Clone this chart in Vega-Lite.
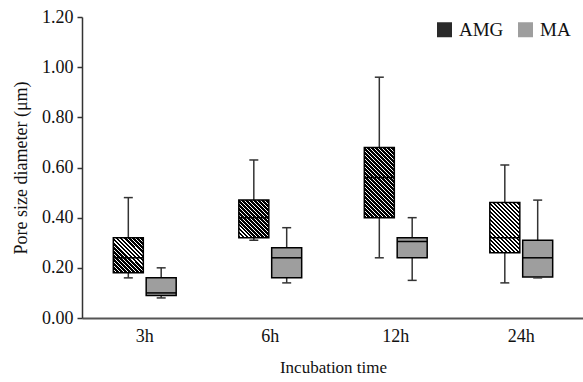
{
  "$schema": "https://vega.github.io/schema/vega-lite/v6.json",
  "width": 502,
  "height": 301,
  "autosize": {"type": "none"},
  "padding": {"left": 82, "top": 17, "right": 0, "bottom": 64},
  "config": {
    "view": {"stroke": null},
    "font": "Liberation Serif",
    "axis": {"labelColor": "#111", "titleColor": "#111", "labelFont": "Liberation Serif", "titleFont": "Liberation Serif"},
    "legend": {"labelFont": "Liberation Serif", "labelColor": "#111"}
  },
  "data": {
    "values": [
      {"time": "3h", "group": "AMG", "min": 0.16, "q1": 0.18, "median": 0.24, "q3": 0.32, "max": 0.48},
      {"time": "3h", "group": "MA", "min": 0.08, "q1": 0.09, "median": 0.10, "q3": 0.16, "max": 0.20},
      {"time": "6h", "group": "AMG", "min": 0.31, "q1": 0.32, "median": 0.40, "q3": 0.47, "max": 0.63},
      {"time": "6h", "group": "MA", "min": 0.14, "q1": 0.16, "median": 0.24, "q3": 0.28, "max": 0.36},
      {"time": "12h", "group": "AMG", "min": 0.24, "q1": 0.40, "median": 0.56, "q3": 0.68, "max": 0.96},
      {"time": "12h", "group": "MA", "min": 0.15, "q1": 0.24, "median": 0.305, "q3": 0.32, "max": 0.40},
      {"time": "24h", "group": "AMG", "min": 0.14, "q1": 0.26, "median": 0.32, "q3": 0.46, "max": 0.61},
      {"time": "24h", "group": "MA", "min": 0.16, "q1": 0.163, "median": 0.24, "q3": 0.31, "max": 0.47}
    ]
  },
  "encoding": {
    "x": {
      "field": "time", "type": "nominal", "sort": ["3h", "6h", "12h", "24h"],
      "scale": {"paddingInner": 0, "paddingOuter": 0},
      "axis": {"title": "Incubation time", "labelAngle": 0, "ticks": false, "domainColor": "#555", "domainWidth": 2,
               "labelFontSize": 18, "labelPadding": 9, "titleFontSize": 17, "titlePadding": 14, "titleFontWeight": "normal"}
    },
    "xOffset": {"field": "group", "type": "nominal", "scale": {"domain": ["AMG", "MA"], "paddingInner": 0, "paddingOuter": 0.909}}
  },
  "layer": [
    {
      "mark": {"type": "rule", "color": "#333", "strokeWidth": 1.5},
      "encoding": {
        "y": {"field": "min", "type": "quantitative", "scale": {"domain": [0, 1.2]},
              "axis": {"title": "Pore size diameter  (μm)", "values": [0, 0.2, 0.4, 0.6, 0.8, 1.0, 1.2], "format": ".2f", "grid": false,
                       "tickSize": 5, "labelPadding": 4, "domainColor": "#333", "tickColor": "#333", "domainWidth": 1.5, "tickWidth": 1.5,
                       "labelFontSize": 18, "titleFontSize": 18, "titleFontWeight": "normal", "titlePadding": 11}},
        "y2": {"field": "max"}
      }
    },
    {
      "mark": {"type": "bar", "width": 30, "stroke": "#000", "strokeWidth": 1.5},
      "encoding": {
        "y": {"field": "q1", "type": "quantitative"},
        "y2": {"field": "q3"},
        "fill": {
          "field": "group", "type": "nominal",
          "scale": {"domain": ["AMG", "MA"], "range": ["#2a2a2a", "#9e9e9e"]},
          "legend": {"title": null, "orient": "none", "legendX": 353, "legendY": 3, "direction": "horizontal", "symbolType": "square",
                     "symbolSize": 225, "labelFontSize": 19, "labelOffset": 5, "columnPadding": 12, "symbolStrokeWidth": 0, "padding": 0},
          "condition": [
            {"test": "datum.group === 'AMG' && datum.time === '3h'", "value": {"gradient": "linear", "x1": 0, "y1": 1, "x2": 0.9176, "y2": -0.0706, "stops": [
              {"offset": 0, "color": "#000"}, {"offset": 0.0425, "color": "#000"}, {"offset": 0.0425, "color": "#fff"}, {"offset": 0.0625, "color": "#fff"},
              {"offset": 0.0625, "color": "#000"}, {"offset": 0.105, "color": "#000"}, {"offset": 0.105, "color": "#fff"}, {"offset": 0.125, "color": "#fff"},
              {"offset": 0.125, "color": "#000"}, {"offset": 0.1675, "color": "#000"}, {"offset": 0.1675, "color": "#fff"}, {"offset": 0.1875, "color": "#fff"},
              {"offset": 0.1875, "color": "#000"}, {"offset": 0.23, "color": "#000"}, {"offset": 0.23, "color": "#fff"}, {"offset": 0.25, "color": "#fff"},
              {"offset": 0.25, "color": "#000"}, {"offset": 0.2925, "color": "#000"}, {"offset": 0.2925, "color": "#fff"}, {"offset": 0.3125, "color": "#fff"},
              {"offset": 0.3125, "color": "#000"}, {"offset": 0.355, "color": "#000"}, {"offset": 0.355, "color": "#fff"}, {"offset": 0.375, "color": "#fff"},
              {"offset": 0.375, "color": "#000"}, {"offset": 0.4175, "color": "#000"}, {"offset": 0.4175, "color": "#fff"}, {"offset": 0.4375, "color": "#fff"},
              {"offset": 0.4375, "color": "#000"}, {"offset": 0.48, "color": "#000"}, {"offset": 0.48, "color": "#fff"}, {"offset": 0.5, "color": "#fff"},
              {"offset": 0.5, "color": "#000"}, {"offset": 0.5425, "color": "#000"}, {"offset": 0.5425, "color": "#fff"}, {"offset": 0.5625, "color": "#fff"},
              {"offset": 0.5625, "color": "#000"}, {"offset": 0.605, "color": "#000"}, {"offset": 0.605, "color": "#fff"}, {"offset": 0.625, "color": "#fff"},
              {"offset": 0.625, "color": "#000"}, {"offset": 0.6675, "color": "#000"}, {"offset": 0.6675, "color": "#fff"}, {"offset": 0.6875, "color": "#fff"},
              {"offset": 0.6875, "color": "#000"}, {"offset": 0.73, "color": "#000"}, {"offset": 0.73, "color": "#fff"}, {"offset": 0.75, "color": "#fff"},
              {"offset": 0.75, "color": "#000"}, {"offset": 0.7925, "color": "#000"}, {"offset": 0.7925, "color": "#fff"}, {"offset": 0.8125, "color": "#fff"},
              {"offset": 0.8125, "color": "#000"}, {"offset": 0.855, "color": "#000"}, {"offset": 0.855, "color": "#fff"}, {"offset": 0.875, "color": "#fff"},
              {"offset": 0.875, "color": "#000"}, {"offset": 0.9175, "color": "#000"}, {"offset": 0.9175, "color": "#fff"}, {"offset": 0.9375, "color": "#fff"},
              {"offset": 0.9375, "color": "#000"}, {"offset": 0.98, "color": "#000"}, {"offset": 0.98, "color": "#fff"}, {"offset": 1, "color": "#fff"}
            ]}},
            {"test": "datum.group === 'AMG' && datum.time === '6h'", "value": {"gradient": "linear", "x1": 0, "y1": 1, "x2": 0.8765, "y2": -0.0985, "stops": [
              {"offset": 0, "color": "#000"}, {"offset": 0.04, "color": "#000"}, {"offset": 0.04, "color": "#fff"}, {"offset": 0.0588, "color": "#fff"},
              {"offset": 0.0588, "color": "#000"}, {"offset": 0.0988, "color": "#000"}, {"offset": 0.0988, "color": "#fff"}, {"offset": 0.1176, "color": "#fff"},
              {"offset": 0.1176, "color": "#000"}, {"offset": 0.1576, "color": "#000"}, {"offset": 0.1576, "color": "#fff"}, {"offset": 0.1765, "color": "#fff"},
              {"offset": 0.1765, "color": "#000"}, {"offset": 0.2165, "color": "#000"}, {"offset": 0.2165, "color": "#fff"}, {"offset": 0.2353, "color": "#fff"},
              {"offset": 0.2353, "color": "#000"}, {"offset": 0.2753, "color": "#000"}, {"offset": 0.2753, "color": "#fff"}, {"offset": 0.2941, "color": "#fff"},
              {"offset": 0.2941, "color": "#000"}, {"offset": 0.3341, "color": "#000"}, {"offset": 0.3341, "color": "#fff"}, {"offset": 0.3529, "color": "#fff"},
              {"offset": 0.3529, "color": "#000"}, {"offset": 0.3929, "color": "#000"}, {"offset": 0.3929, "color": "#fff"}, {"offset": 0.4118, "color": "#fff"},
              {"offset": 0.4118, "color": "#000"}, {"offset": 0.4518, "color": "#000"}, {"offset": 0.4518, "color": "#fff"}, {"offset": 0.4706, "color": "#fff"},
              {"offset": 0.4706, "color": "#000"}, {"offset": 0.5106, "color": "#000"}, {"offset": 0.5106, "color": "#fff"}, {"offset": 0.5294, "color": "#fff"},
              {"offset": 0.5294, "color": "#000"}, {"offset": 0.5694, "color": "#000"}, {"offset": 0.5694, "color": "#fff"}, {"offset": 0.5882, "color": "#fff"},
              {"offset": 0.5882, "color": "#000"}, {"offset": 0.6282, "color": "#000"}, {"offset": 0.6282, "color": "#fff"}, {"offset": 0.6471, "color": "#fff"},
              {"offset": 0.6471, "color": "#000"}, {"offset": 0.6871, "color": "#000"}, {"offset": 0.6871, "color": "#fff"}, {"offset": 0.7059, "color": "#fff"},
              {"offset": 0.7059, "color": "#000"}, {"offset": 0.7459, "color": "#000"}, {"offset": 0.7459, "color": "#fff"}, {"offset": 0.7647, "color": "#fff"},
              {"offset": 0.7647, "color": "#000"}, {"offset": 0.8047, "color": "#000"}, {"offset": 0.8047, "color": "#fff"}, {"offset": 0.8235, "color": "#fff"},
              {"offset": 0.8235, "color": "#000"}, {"offset": 0.8635, "color": "#000"}, {"offset": 0.8635, "color": "#fff"}, {"offset": 0.8824, "color": "#fff"},
              {"offset": 0.8824, "color": "#000"}, {"offset": 0.9224, "color": "#000"}, {"offset": 0.9224, "color": "#fff"}, {"offset": 0.9412, "color": "#fff"},
              {"offset": 0.9412, "color": "#000"}, {"offset": 0.9812, "color": "#000"}, {"offset": 0.9812, "color": "#fff"}, {"offset": 1, "color": "#fff"}
            ]}},
            {"test": "datum.group === 'AMG' && datum.time === '12h'", "value": {"gradient": "linear", "x1": 0, "y1": 1, "x2": 0.5158, "y2": -0.2069, "stops": [
              {"offset": 0, "color": "#000"}, {"offset": 0.0272, "color": "#000"}, {"offset": 0.0272, "color": "#fff"}, {"offset": 0.04, "color": "#fff"},
              {"offset": 0.04, "color": "#000"}, {"offset": 0.0672, "color": "#000"}, {"offset": 0.0672, "color": "#fff"}, {"offset": 0.08, "color": "#fff"},
              {"offset": 0.08, "color": "#000"}, {"offset": 0.1072, "color": "#000"}, {"offset": 0.1072, "color": "#fff"}, {"offset": 0.12, "color": "#fff"},
              {"offset": 0.12, "color": "#000"}, {"offset": 0.1472, "color": "#000"}, {"offset": 0.1472, "color": "#fff"}, {"offset": 0.16, "color": "#fff"},
              {"offset": 0.16, "color": "#000"}, {"offset": 0.1872, "color": "#000"}, {"offset": 0.1872, "color": "#fff"}, {"offset": 0.2, "color": "#fff"},
              {"offset": 0.2, "color": "#000"}, {"offset": 0.2272, "color": "#000"}, {"offset": 0.2272, "color": "#fff"}, {"offset": 0.24, "color": "#fff"},
              {"offset": 0.24, "color": "#000"}, {"offset": 0.2672, "color": "#000"}, {"offset": 0.2672, "color": "#fff"}, {"offset": 0.28, "color": "#fff"},
              {"offset": 0.28, "color": "#000"}, {"offset": 0.3072, "color": "#000"}, {"offset": 0.3072, "color": "#fff"}, {"offset": 0.32, "color": "#fff"},
              {"offset": 0.32, "color": "#000"}, {"offset": 0.3472, "color": "#000"}, {"offset": 0.3472, "color": "#fff"}, {"offset": 0.36, "color": "#fff"},
              {"offset": 0.36, "color": "#000"}, {"offset": 0.3872, "color": "#000"}, {"offset": 0.3872, "color": "#fff"}, {"offset": 0.4, "color": "#fff"},
              {"offset": 0.4, "color": "#000"}, {"offset": 0.4272, "color": "#000"}, {"offset": 0.4272, "color": "#fff"}, {"offset": 0.44, "color": "#fff"},
              {"offset": 0.44, "color": "#000"}, {"offset": 0.4672, "color": "#000"}, {"offset": 0.4672, "color": "#fff"}, {"offset": 0.48, "color": "#fff"},
              {"offset": 0.48, "color": "#000"}, {"offset": 0.5072, "color": "#000"}, {"offset": 0.5072, "color": "#fff"}, {"offset": 0.52, "color": "#fff"},
              {"offset": 0.52, "color": "#000"}, {"offset": 0.5472, "color": "#000"}, {"offset": 0.5472, "color": "#fff"}, {"offset": 0.56, "color": "#fff"},
              {"offset": 0.56, "color": "#000"}, {"offset": 0.5872, "color": "#000"}, {"offset": 0.5872, "color": "#fff"}, {"offset": 0.6, "color": "#fff"},
              {"offset": 0.6, "color": "#000"}, {"offset": 0.6272, "color": "#000"}, {"offset": 0.6272, "color": "#fff"}, {"offset": 0.64, "color": "#fff"},
              {"offset": 0.64, "color": "#000"}, {"offset": 0.6672, "color": "#000"}, {"offset": 0.6672, "color": "#fff"}, {"offset": 0.68, "color": "#fff"},
              {"offset": 0.68, "color": "#000"}, {"offset": 0.7072, "color": "#000"}, {"offset": 0.7072, "color": "#fff"}, {"offset": 0.72, "color": "#fff"},
              {"offset": 0.72, "color": "#000"}, {"offset": 0.7472, "color": "#000"}, {"offset": 0.7472, "color": "#fff"}, {"offset": 0.76, "color": "#fff"},
              {"offset": 0.76, "color": "#000"}, {"offset": 0.7872, "color": "#000"}, {"offset": 0.7872, "color": "#fff"}, {"offset": 0.8, "color": "#fff"},
              {"offset": 0.8, "color": "#000"}, {"offset": 0.8272, "color": "#000"}, {"offset": 0.8272, "color": "#fff"}, {"offset": 0.84, "color": "#fff"},
              {"offset": 0.84, "color": "#000"}, {"offset": 0.8672, "color": "#000"}, {"offset": 0.8672, "color": "#fff"}, {"offset": 0.88, "color": "#fff"},
              {"offset": 0.88, "color": "#000"}, {"offset": 0.9072, "color": "#000"}, {"offset": 0.9072, "color": "#fff"}, {"offset": 0.92, "color": "#fff"},
              {"offset": 0.92, "color": "#000"}, {"offset": 0.9472, "color": "#000"}, {"offset": 0.9472, "color": "#fff"}, {"offset": 0.96, "color": "#fff"},
              {"offset": 0.96, "color": "#000"}, {"offset": 0.9872, "color": "#000"}, {"offset": 0.9872, "color": "#fff"}, {"offset": 1, "color": "#fff"}
            ]}},
            {"test": "datum.group === 'AMG' && datum.time === '24h'", "value": {"gradient": "linear", "x1": 0, "y1": 1, "x2": 0.7035, "y2": -0.1772, "stops": [
              {"offset": 0, "color": "#000"}, {"offset": 0.034, "color": "#000"}, {"offset": 0.034, "color": "#fff"}, {"offset": 0.05, "color": "#fff"},
              {"offset": 0.05, "color": "#000"}, {"offset": 0.084, "color": "#000"}, {"offset": 0.084, "color": "#fff"}, {"offset": 0.1, "color": "#fff"},
              {"offset": 0.1, "color": "#000"}, {"offset": 0.134, "color": "#000"}, {"offset": 0.134, "color": "#fff"}, {"offset": 0.15, "color": "#fff"},
              {"offset": 0.15, "color": "#000"}, {"offset": 0.184, "color": "#000"}, {"offset": 0.184, "color": "#fff"}, {"offset": 0.2, "color": "#fff"},
              {"offset": 0.2, "color": "#000"}, {"offset": 0.234, "color": "#000"}, {"offset": 0.234, "color": "#fff"}, {"offset": 0.25, "color": "#fff"},
              {"offset": 0.25, "color": "#000"}, {"offset": 0.284, "color": "#000"}, {"offset": 0.284, "color": "#fff"}, {"offset": 0.3, "color": "#fff"},
              {"offset": 0.3, "color": "#000"}, {"offset": 0.334, "color": "#000"}, {"offset": 0.334, "color": "#fff"}, {"offset": 0.35, "color": "#fff"},
              {"offset": 0.35, "color": "#000"}, {"offset": 0.384, "color": "#000"}, {"offset": 0.384, "color": "#fff"}, {"offset": 0.4, "color": "#fff"},
              {"offset": 0.4, "color": "#000"}, {"offset": 0.434, "color": "#000"}, {"offset": 0.434, "color": "#fff"}, {"offset": 0.45, "color": "#fff"},
              {"offset": 0.45, "color": "#000"}, {"offset": 0.484, "color": "#000"}, {"offset": 0.484, "color": "#fff"}, {"offset": 0.5, "color": "#fff"},
              {"offset": 0.5, "color": "#000"}, {"offset": 0.534, "color": "#000"}, {"offset": 0.534, "color": "#fff"}, {"offset": 0.55, "color": "#fff"},
              {"offset": 0.55, "color": "#000"}, {"offset": 0.584, "color": "#000"}, {"offset": 0.584, "color": "#fff"}, {"offset": 0.6, "color": "#fff"},
              {"offset": 0.6, "color": "#000"}, {"offset": 0.634, "color": "#000"}, {"offset": 0.634, "color": "#fff"}, {"offset": 0.65, "color": "#fff"},
              {"offset": 0.65, "color": "#000"}, {"offset": 0.684, "color": "#000"}, {"offset": 0.684, "color": "#fff"}, {"offset": 0.7, "color": "#fff"},
              {"offset": 0.7, "color": "#000"}, {"offset": 0.734, "color": "#000"}, {"offset": 0.734, "color": "#fff"}, {"offset": 0.75, "color": "#fff"},
              {"offset": 0.75, "color": "#000"}, {"offset": 0.784, "color": "#000"}, {"offset": 0.784, "color": "#fff"}, {"offset": 0.8, "color": "#fff"},
              {"offset": 0.8, "color": "#000"}, {"offset": 0.834, "color": "#000"}, {"offset": 0.834, "color": "#fff"}, {"offset": 0.85, "color": "#fff"},
              {"offset": 0.85, "color": "#000"}, {"offset": 0.884, "color": "#000"}, {"offset": 0.884, "color": "#fff"}, {"offset": 0.9, "color": "#fff"},
              {"offset": 0.9, "color": "#000"}, {"offset": 0.934, "color": "#000"}, {"offset": 0.934, "color": "#fff"}, {"offset": 0.95, "color": "#fff"},
              {"offset": 0.95, "color": "#000"}, {"offset": 0.984, "color": "#000"}, {"offset": 0.984, "color": "#fff"}, {"offset": 1, "color": "#fff"}
            ]}}
          ]
        }
      }
    },
    {
      "mark": {"type": "tick", "color": "#000", "size": 30, "thickness": 1.5, "opacity": 1},
      "encoding": {"y": {"field": "median", "type": "quantitative"}}
    },
    {
      "mark": {"type": "tick", "color": "#333", "size": 9, "thickness": 1.5, "opacity": 1},
      "encoding": {"y": {"field": "min", "type": "quantitative"}}
    },
    {
      "mark": {"type": "tick", "color": "#333", "size": 9, "thickness": 1.5, "opacity": 1},
      "encoding": {"y": {"field": "max", "type": "quantitative"}}
    }
  ]
}
